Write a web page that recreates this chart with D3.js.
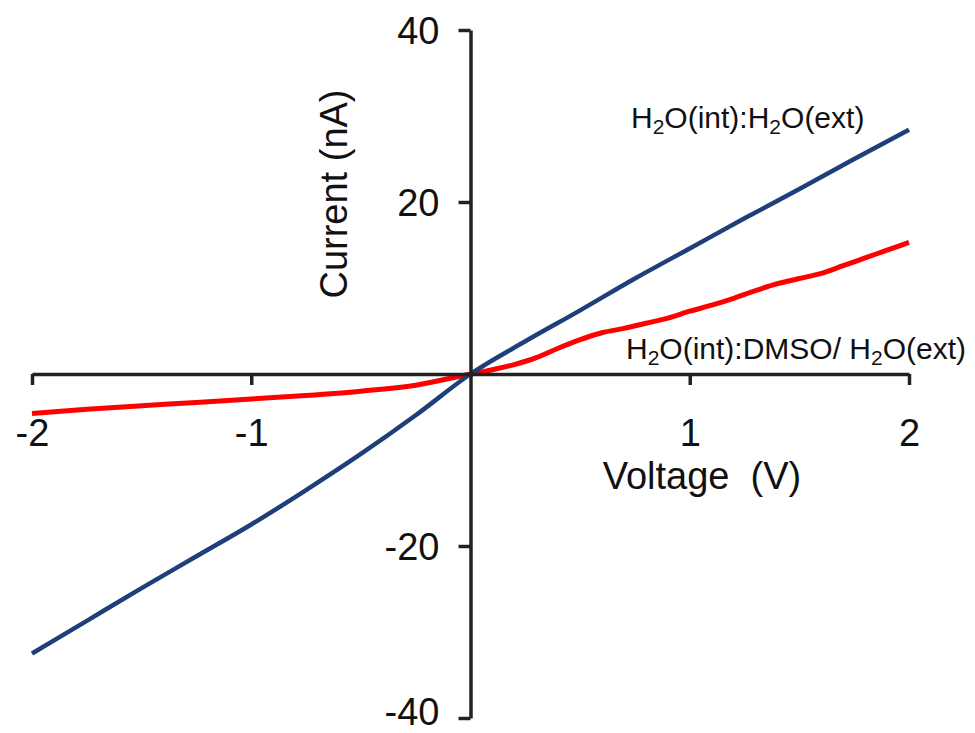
<!DOCTYPE html>
<html>
<head>
<meta charset="utf-8">
<script src="https://cdn.jsdelivr.net/npm/d3@7"></script>
<style>
  html, body { margin: 0; padding: 0; background: #fff; }
  svg { display: block; }
  text { font-family: "Liberation Sans", Arial, Helvetica, sans-serif; fill: #111; }
</style>
</head>
<body>
<svg id="chart" width="975" height="733"></svg>
<script>
// Current–voltage sweeps, voltage in V, current in nA
const voltageBlue = [-2, -1.75, -1.5, -1.25, -1, -0.75, -0.5, -0.25, 0, 0.25, 0.5, 0.75, 1, 1.25, 1.5, 1.75, 2];
const currentWaterWater = [-32.5, -28.7, -24.9, -21.2, -17.5, -13.5, -9.3, -4.8, 0, 3.8, 7.4, 11.1, 14.6, 18.1, 21.5, 25.0, 28.4];

const voltageRed = [-2, -1.75, -1.5, -1.25, -1, -0.75, -0.5, -0.25, 0, 0.1, 0.2, 0.3, 0.4, 0.5, 0.6, 0.7, 0.8, 0.9, 1.0, 1.1, 1.2, 1.3, 1.4, 1.5, 1.6, 1.7, 1.8, 1.9, 2.0];
const currentWaterDmso = [-4.6, -4.1, -3.7, -3.3, -2.9, -2.5, -2.0, -1.3, 0, 0.5, 1.1, 1.9, 3.0, 4.0, 4.8, 5.3, 5.9, 6.5, 7.3, 8.0, 8.8, 9.7, 10.5, 11.1, 11.7, 12.6, 13.5, 14.4, 15.3];

const xTicks = [-2, -1, 1, 2];
const yTicks = [-40, -20, 20, 40];

const svg = d3.select("#chart");

const x = d3.scaleLinear().domain([-2, 2]).range([32, 909]);
const y = d3.scaleLinear().domain([-40, 40]).range([718, 30]);

const line = d3.line()
  .x(d => x(d[0]))
  .y(d => y(d[1]))
  .curve(d3.curveMonotoneX);

// series
svg.append("path")
  .datum(d3.zip(voltageRed, currentWaterDmso))
  .attr("d", line)
  .attr("fill", "none")
  .attr("stroke", "#ff0000")
  .attr("stroke-width", 5)
  .attr("stroke-linejoin", "round");

svg.append("path")
  .datum(d3.zip(voltageBlue, currentWaterWater))
  .attr("d", line)
  .attr("fill", "none")
  .attr("stroke", "#1f3f7a")
  .attr("stroke-width", 4.5)
  .attr("stroke-linejoin", "round");

// axes crossing at the origin; plain hyphen for negative labels
const plain = d => String(d);

const xAxis = svg.append("g")
  .attr("transform", `translate(0,${y(0)})`)
  .call(d3.axisBottom(x).tickValues(xTicks).tickSizeOuter(0).tickSizeInner(11).tickFormat(plain));

const yAxis = svg.append("g")
  .attr("transform", `translate(${x(0)},0)`)
  .call(d3.axisLeft(y).tickValues(yTicks).tickSizeOuter(0).tickSizeInner(12).tickFormat(plain));

[xAxis, yAxis].forEach(g => {
  g.select(".domain").attr("stroke", "#222").attr("stroke-width", 3.5);
  g.selectAll(".tick line").attr("stroke", "#222").attr("stroke-width", 3.5);
  g.selectAll(".tick text")
    .attr("fill", "#111")
    .style("font-size", "38px")
    .style("font-family", '"Liberation Sans", Arial, sans-serif');
});

xAxis.selectAll(".tick text").attr("y", 72).attr("dy", 0);
yAxis.selectAll(".tick text")
  .attr("x", -31)
  .attr("dy", "0.35em")
  .attr("y", d => d === -40 ? -7 : 0);

// axis titles
svg.append("text")
  .attr("x", 702).attr("y", 489)
  .attr("text-anchor", "middle")
  .style("font-size", "38px")
  .style("white-space", "pre")
  .text("Voltage  (V)");

svg.append("text")
  .attr("transform", "translate(347,194) rotate(-90)")
  .attr("text-anchor", "middle")
  .style("font-size", "38px")
  .text("Current (nA)");

// series labels, "2" set as a subscript
function seriesLabel(parts, px, py) {
  const t = svg.append("text")
    .attr("x", px).attr("y", py)
    .style("font-size", "30px")
    .style("white-space", "pre");
  let shifted = false;
  parts.forEach(p => {
    if (p === "2") {
      t.append("tspan").attr("dy", 6).style("font-size", "21px").text("2");
      shifted = true;
    } else {
      t.append("tspan").attr("dy", shifted ? -6 : 0).text(p);
      shifted = false;
    }
  });
  return t;
}

seriesLabel(["H", "2", "O(int):H", "2", "O(ext)"], 631, 128);
seriesLabel(["H", "2", "O(int):DMSO/ H", "2", "O(ext)"], 626, 359);
</script>
</body>
</html>
